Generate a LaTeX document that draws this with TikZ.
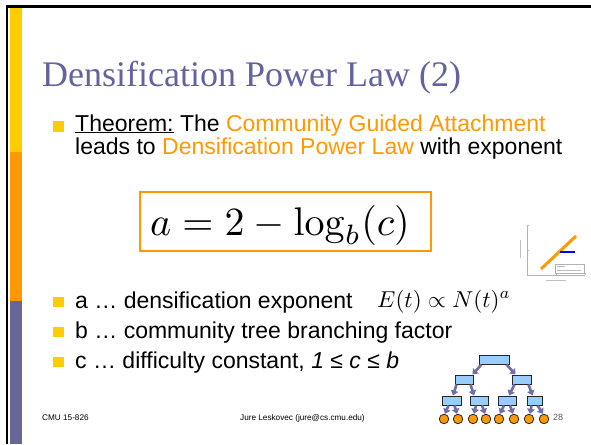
\documentclass[tikz,border=0pt]{standalone}
\usepackage{graphicx}
\usepackage[no-math]{fontspec}
\setmainfont{Liberation Sans}
\newfontfamily\titlefont{Liberation Serif}
\usetikzlibrary{arrows.meta}

\definecolor{barYellow}{HTML}{FFCC00}
\definecolor{barOrange}{HTML}{FF9900}
\definecolor{barPurple}{HTML}{666699}
\definecolor{titleCol}{HTML}{6363A0}
\definecolor{boxBlue}{HTML}{99CCFF}
\definecolor{arrowCol}{HTML}{6E6EAA}
\definecolor{footGray}{HTML}{555555}

\tikzset{
  tbox/.style={draw=black!85, fill=boxBlue, line width=1pt, minimum height=9pt, inner sep=0pt},
  leaf/.style={circle, draw=black!85, fill=barOrange, line width=0.8pt, minimum size=9.5pt, inner sep=0pt},
  tarr/.style={draw=arrowCol, line width=2.6pt, -{Triangle[length=5pt,width=7.5pt]}},
  sqbullet/.style={fill=barYellow, minimum size=10.5pt, inner sep=0pt},
  body/.style={anchor=base west, inner sep=0pt, font=\fontsize{23}{27}\selectfont},
  foot/.style={anchor=base west, inner sep=0pt, font=\fontsize{8.2}{10}\selectfont},
}

\begin{document}
\begin{tikzpicture}[x=1pt,y=-1pt]
\useasboundingbox (0,0) rectangle (591,444);
\fill[white] (0,0) rectangle (591,444);

% side bar and frame
\fill[barYellow] (9.5,7.5) rectangle (22,152);
\fill[barOrange] (9.5,152) rectangle (22,301);
\fill[barPurple] (9.5,301) rectangle (22,444);
\draw[black, line width=2.5pt] (7,444) -- (7,6.5) -- (591,6.5);

% title
\node[anchor=base west, inner sep=0pt, text=titleCol, font=\titlefont\fontsize{36}{41}\selectfont]
  (title) at (42,86) {Densification Power Law (2)};

% theorem bullet
\node[sqbullet] (b0) at (58.5,126.5) {};
\node[body] (thm1) at (75,131) {\underline{Theorem:} The \textcolor{barOrange}{Community Guided Attachment}};
\node[body] (thm2) at (75,154) {leads to \textcolor{barOrange}{Densification Power Law} with exponent};

% boxed formula
\node[draw=barOrange, line width=2pt, minimum width=291pt, minimum height=59pt, inner sep=0pt]
  (fbox) at (285.5,221.5) {};
\node[anchor=base west, inner sep=0pt]
  (formula) at (150,235) {\scalebox{4}{$a = 2 - \log_b(c)$}};

% small densification plot
\draw[gray!60, line width=0.4pt] (527,225) -- (527,275) -- (585,275);
\foreach \yy in {225,250} \draw[gray!60, line width=0.3pt] (527,\yy) -- (529,\yy);
\foreach \xx in {556,585} \draw[gray!60, line width=0.3pt] (\xx,275) -- (\xx,273);
\draw[gray!50, line width=0.5pt] (520,240) -- (520,258);
\draw[gray!50, line width=0.5pt] (546,280) -- (566,280);
\draw[gray!60, line width=0.3pt] (555,264) rectangle (584,273);
\draw[gray!50, line width=0.4pt] (557,266.5) -- (565,266.5) (557,270.5) -- (581,270.5);
\draw[barOrange, line width=3pt] (541,269) -- (576,236);
\draw[blue, line width=2.6pt] (560,252) -- (575,252);

% remaining bullets
\node[sqbullet] (b1) at (58.5,302) {};
\node[sqbullet] (b2) at (58.5,332) {};
\node[sqbullet] (b3) at (58.5,362) {};
\node[body] (la) at (75,308) {a … densification exponent};
\node[anchor=base west, inner sep=0pt]
  (eq2) at (377,307) {\scalebox{2.3}{$E(t) \propto N(t)^a$}};
\node[body] (lb) at (75,338) {b … community tree branching factor};
\node[body] (lc) at (75,368) {c … difficulty constant, \textit{1 ≤ c ≤ b}};

% community tree
\node[tbox, minimum width=30pt] (t0) at (494,359.5) {};
\node[tbox, minimum width=18pt] (t1) at (464,379.5) {};
\node[tbox, minimum width=19pt] (t2) at (521.5,379.5) {};
\node[tbox, minimum width=19pt] (u1) at (451.5,400.5) {};
\node[tbox, minimum width=18pt] (u2) at (479,400.5) {};
\node[tbox, minimum width=18pt] (u3) at (507,400.5) {};
\node[tbox, minimum width=15pt] (u4) at (534.5,400.5) {};
\foreach \i/\xx in {1/444,2/458,3/473,4/486,5/499,6/514,7/529,8/544}
  \node[leaf] (v\i) at (\xx,419) {};

\draw[tarr] ([xshift=3pt]t0.south west) -- ([xshift=-1pt]t1.north east);
\draw[tarr] ([xshift=-3pt]t0.south east) -- ([xshift=4pt]t2.north west);
\draw[tarr] ([xshift=2pt]t1.south west) -- ([xshift=1.5pt]u1.north);
\draw[tarr] ([xshift=-3pt]t1.south east) -- ([xshift=-5pt]u2.north);
\draw[tarr] ([xshift=3pt]t2.south west) -- ([xshift=2pt]u3.north);
\draw[tarr] ([xshift=-3pt]t2.south east) -- ([xshift=-2pt]u4.north);
\draw[tarr] ([xshift=-3pt]u1.south) -- ([xshift=1pt]v1.north);
\draw[tarr] ([xshift=3pt]u1.south) -- ([xshift=-1pt]v2.north);
\draw[tarr] ([xshift=-3pt]u2.south) -- ([xshift=1pt]v3.north);
\draw[tarr] ([xshift=3pt]u2.south) -- ([xshift=-1pt]v4.north);
\draw[tarr] ([xshift=-3pt]u3.south) -- ([xshift=1pt]v5.north);
\draw[tarr] ([xshift=3pt]u3.south) -- ([xshift=-1pt]v6.north);
\draw[tarr] ([xshift=-3pt]u4.south) -- ([xshift=1pt]v7.north);
\draw[tarr] ([xshift=3pt]u4.south) -- ([xshift=-1pt]v8.north);

% footer
\node[foot] (f1) at (42,420) {CMU 15-826};
\node[foot] (f2) at (240,420) {Jure Leskovec (jure@cs.cmu.edu)};
\node[anchor=base west, inner sep=0pt, text=footGray, font=\fontsize{9}{11}\selectfont]
  (pg) at (553,420) {28};
\end{tikzpicture}
\end{document}
